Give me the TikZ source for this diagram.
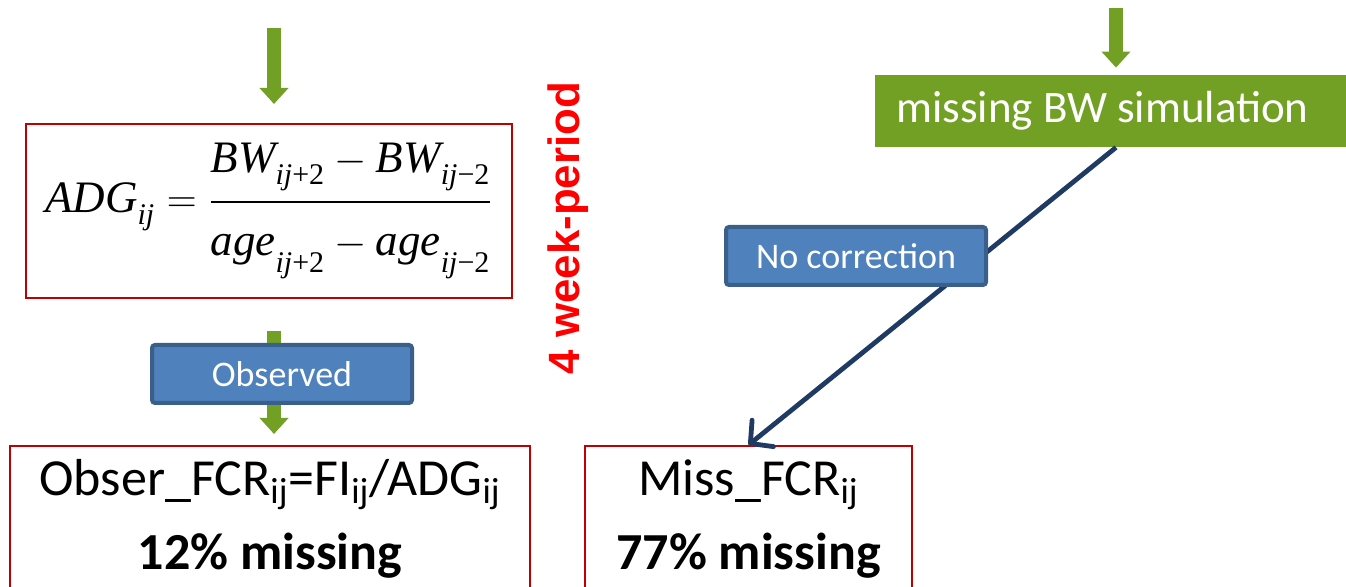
\documentclass[tikz,border=0pt]{standalone}
\usepackage{amsmath}
\usepackage{fontspec}
\setmainfont{Carlito}
\newfontfamily\tnr{Liberation Serif}
\newfontfamily\arial{Liberation Sans}
\usetikzlibrary{arrows.meta}
\definecolor{fcgreen}{HTML}{72A024}
\definecolor{fcblue}{HTML}{4F81BD}
\definecolor{fcbluedark}{HTML}{3A5F8B}
\definecolor{fcnavy}{HTML}{1F3B63}
\definecolor{fcred}{HTML}{C00000}
\newcommand{\tv}[1]{\text{\tnr\itshape #1}}
\newcommand{\ijsub}[1]{\raisebox{-3pt}{\fontsize{15}{15}\selectfont\tnr\itshape ij\upshape #1}}

\begin{document}
\begin{tikzpicture}[
    x=0.5pt, y=-0.5pt,
    redbox/.style={draw=fcred, line width=1pt, align=center, inner sep=0pt},
    bluebox/.style={draw=fcbluedark, fill=fcblue, line width=2pt, rounded corners=1.5pt,
        text=white, font=\fontsize{18}{22}\selectfont, minimum width=130pt, minimum height=29pt},
    greenbox/.style={fill=fcgreen, text=white, font=\fontsize{22.5}{26}\selectfont},
    garrow/.style={draw=fcgreen, line width=7pt, -{Triangle[width=14pt,length=8pt]}},
    narrow/.style={draw=fcnavy, line width=2.4pt, -{Straight Barb[length=8pt,width=17pt,round]}},
    label/.style={font=\fontsize{26}{37}\selectfont}
]
    \clip (0,0) rectangle (1346,587);

    % Boxes
    \node[redbox, minimum width=243pt, minimum height=87pt] (adg) at (269,211)
        {\fontsize{22.5}{28}\selectfont
         $\displaystyle \tv{ADG}_{\ijsub{}}=\frac{\raisebox{6pt}{$\displaystyle\tv{BW}_{\ijsub{+2}}-\tv{BW}_{\ijsub{−2}}$}}
         {\raisebox{-7.5pt}{$\displaystyle\tv{age}_{\ijsub{+2}}-\tv{age}_{\ijsub{−2}}$}}$};
    \node[redbox, label, minimum width=260pt, minimum height=73pt] (obser) at (270,519)
        {Obser\_FCR\textsubscript{ij}=FI\textsubscript{ij}/ADG\textsubscript{ij}\\ \textbf{12\% missing}};
    \node[redbox, label, minimum width=163.5pt, minimum height=73pt] (miss) at (748.5,519)
        {Miss\_FCR\textsubscript{ij}\\ \textbf{77\% missing}};
    \node[greenbox, minimum width=235.5pt, minimum height=36pt] (missbw) at (1110.5,111)
        {missing BW simulation\hspace*{8pt}};
    \node[text=red, font=\arial\bfseries\fontsize{21.9}{24}\selectfont, rotate=90] (period) at (568,228)
        {4 week-period};

    % Arrows
    \coordinate (top1) at (274,28);
    \coordinate (top2) at (1116,8);
    \draw[garrow, shorten >=9.5pt] (top1) -- (adg.north -| top1);
    \draw[garrow, shorten <=16pt, shorten >=5.5pt] (adg.south -| top1) -- (obser.north -| top1);
    \draw[garrow, shorten >=3.5pt] (top2) -- (missbw.north -| top2);
    \draw[narrow] (missbw.south -| top2) -- (miss.north);

    % Labels on the arrows
    \node[bluebox] (observed) at (282,374) {Observed};
    \node[bluebox] (nocorr) at (856,256) {No correction};
\end{tikzpicture}
\end{document}
